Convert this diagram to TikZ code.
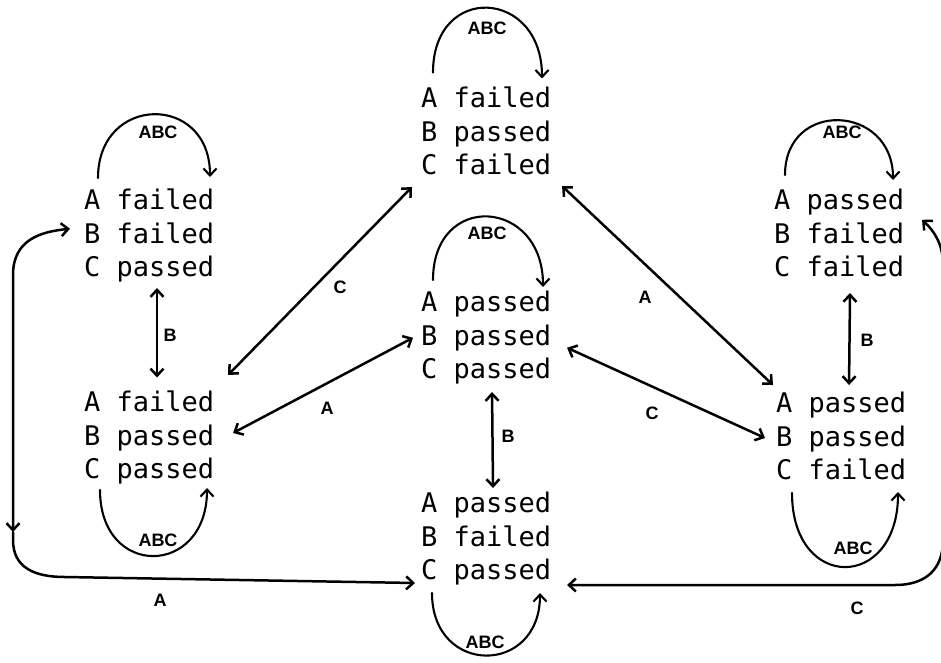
\documentclass[tikz,border=0pt]{standalone}
\usepackage{fontspec}
\setmonofont{DejaVu Sans Mono}
\newfontfamily\lblfont{Liberation Sans}
\usetikzlibrary{arrows.meta,calc}
\tikzset{
  state/.style={anchor=north west, inner sep=0pt, outer sep=0pt, align=left,
    font=\fontsize{27}{33.5}\selectfont\ttfamily},
  lbl/.style={inner sep=0pt, font=\lblfont\bfseries\fontsize{18}{18}\selectfont},
  conn/.style={line width=2.5pt, line cap=round,
    arrows={Straight Barb[length=7pt,width=13pt,line width=2.5pt]-Straight Barb[length=7pt,width=13pt,line width=2.5pt]}},
  selfloop/.style={line width=2.1pt, line cap=round,
    -{Straight Barb[length=7pt,width=13pt,line width=2.1pt]}},
}
\begin{document}
\begin{tikzpicture}[x=1pt,y=-1pt]
\useasboundingbox (0,0) rectangle (941,662);
\clip (0,0) rectangle (941,662);

% states
\node[state] (N1) at (421,84.5)  {\strut A failed\\\strut B passed\\\strut C failed};
\node[state] (N2) at (84,186.5)  {\strut A failed\\\strut B failed\\\strut C passed};
\node[state] (N3) at (84,388.5)  {\strut A failed\\\strut B passed\\\strut C passed};
\node[state] (N4) at (421,288.5) {\strut A passed\\\strut B passed\\\strut C passed};
\node[state] (N5) at (421,489.5) {\strut A passed\\\strut B failed\\\strut C passed};
\node[state] (N6) at (774,186.5) {\strut A passed\\\strut B failed\\\strut C failed};
\node[state] (N7) at (776,389.5) {\strut A passed\\\strut B passed\\\strut C failed};

% self loops (top)
\draw[selfloop] ($(N1.north west)+(12,-12)$) .. controls +(0,-90) and +(0,-90) .. ($(N1.north west)+(121,-6)$);
\draw[selfloop] ($(N2.north west)+(14,-8.5)$) .. controls +(0,-84) and +(0,-84) .. ($(N2.north west)+(126,-9.5)$);
\draw[selfloop] ($(N4.north west)+(12,-8.5)$) .. controls +(0,-89) and +(0,-89) .. ($(N4.north west)+(122,-1.5)$);
\draw[selfloop] ($(N6.north west)+(11,-11.5)$) .. controls +(0,-76) and +(0,-76) .. ($(N6.north west)+(119,-6.5)$);
% self loops (bottom)
\draw[selfloop] ($(N3.north west)+(16,101.5)$) .. controls +(0,89) and +(0,89) .. ($(N3.north west)+(123,99.5)$);
\draw[selfloop] ($(N7.north west)+(16,103.5)$) .. controls +(0,99) and +(0,99) .. ($(N7.north west)+(122,102.5)$);
\draw[selfloop] ($(N5.north west)+(11,103.5)$) .. controls +(0,83) and +(0,83) .. ($(N5.north west)+(119,103.5)$);

\node[lbl] (L1) at (487,28) {ABC};
\node[lbl] (L2) at (158,132) {ABC};
\node[lbl] (L4) at (487,233) {ABC};
\node[lbl] (L6) at (842,132) {ABC};
\node[lbl] (L3) at (158,540) {ABC};
\node[lbl] (L7) at (853,548) {ABC};
\node[lbl] (L5) at (485,642) {ABC};

% straight transitions
\draw[conn] ($(N2.south)+(8,1)$) -- ($(N3.north)+(8,-11)$);
\node[lbl] (B23) at (170,335) {B};
\draw[conn] ($(N6.south)+(11,6)$) -- ($(N7.north)+(8,-4.5)$);
\node[lbl] (B67) at (867,340) {B};
\draw[conn] ($(N4.south)+(6,3)$) -- ($(N5.north)+(7,-1.5)$);
\node[lbl] (B45) at (508,436) {B};
\draw[conn] ($(N3.north east)+(14,-13.5)$) -- ($(N1.south west)+(-9,2)$);
\node[lbl] (C31) at (340,287) {C};
\draw[conn] ($(N3.east)+(19,-5.75)$) -- ($(N4.west)+(-8,-1)$);
\node[lbl] (A34) at (327,408) {A};
\draw[conn] ($(N1.south east)+(11,1)$) -- ($(N7.north west)+(-3,-4.5)$);
\node[lbl] (A17) at (645,297) {A};
\draw[conn] ($(N4.east)+(16,9)$) -- ($(N7.west)+(-11,-1.75)$);
\node[lbl] (C47) at (652,413) {C};

% long curved transitions
\draw[conn] ($(N2.west)+(-14,-8)$) .. controls +(-30,3) and +(0,-35) .. (13,275) -- (13,532);
\draw[conn,arrows={-Straight Barb[length=7pt,width=13pt,line width=2.5pt]}] (13,532) -- (13,540) .. controls (13,568) and (35,577) .. (65,577) -- ($(N5.south west)+(-6,-7)$);
\node[lbl] (A25) at (160,600) {A};
\draw[conn] ($(N6.east)+(18,-17)$) .. controls +(13,12) and +(0,-20) .. (943,265) -- (943,540) .. controls (943,570) and (925,585) .. (895,585) -- ($(N5.south east)+(16,-5)$);
\node[lbl] (C65) at (857,608) {C};
\end{tikzpicture}
\end{document}
